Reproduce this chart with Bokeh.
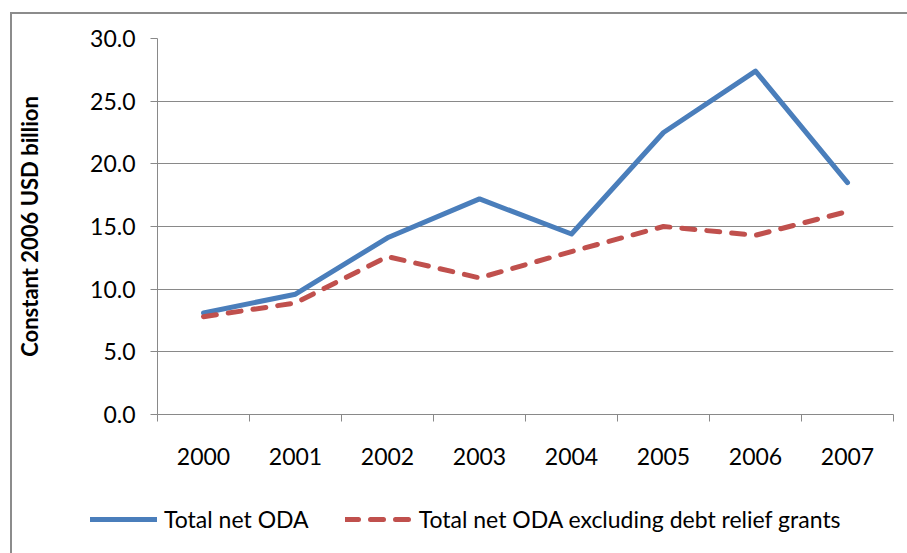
from bokeh.plotting import figure
from bokeh.layouts import column
from bokeh.models import (FixedTicker, PrintfTickFormatter, Legend, LegendItem,
                          Range1d, ColumnDataSource)
from bokeh.embed import file_html
from bokeh.resources import INLINE

years = ["2000", "2001", "2002", "2003", "2004", "2005", "2006", "2007"]
total_oda = [8.1, 9.6, 14.1, 17.2, 14.4, 22.5, 27.4, 18.5]
oda_excl_debt = [7.8, 8.9, 12.6, 10.9, 13.0, 15.0, 14.3, 16.2]
y_ticks = [0, 5, 10, 15, 20, 25, 30]

FONT = "Lato"
GRID = "#898989"
BLUE = "#4A7EBB"
RED = "#C0504D"

xpos = [i + 0.5 for i in range(len(years))]
src = ColumnDataSource(dict(x=xpos, total=total_oda, excl=oda_excl_debt))

p = figure(width=895, height=465, output_backend="svg", toolbar_location=None,
           x_range=Range1d(0, len(years)), y_range=Range1d(0, 30),
           min_border_left=145, min_border_right=14, min_border_top=24,
           min_border_bottom=65)
p.outline_line_color = None
p.background_fill_color = "white"
p.border_fill_color = "white"

# x axis: category labels at centers, tick marks at boundaries
p.xaxis.ticker = FixedTicker(ticks=xpos, minor_ticks=list(range(len(years) + 1)))
p.xaxis.major_label_overrides = {x: y for x, y in zip(xpos, years)}
p.xaxis.major_tick_out = 0
p.xaxis.major_tick_in = 0
p.xaxis.minor_tick_out = 7
p.xaxis.minor_tick_in = 0
p.xaxis.minor_tick_line_color = GRID
p.xaxis.axis_line_color = GRID
p.xaxis.major_label_standoff = 26
p.xaxis.major_label_text_font = FONT
p.xaxis.major_label_text_font_size = "23px"
p.xaxis.major_label_text_color = "black"
p.xgrid.grid_line_color = None

# y axis
p.yaxis.ticker = FixedTicker(ticks=y_ticks)
p.yaxis.formatter = PrintfTickFormatter(format="%.1f")
p.yaxis.major_tick_out = 7
p.yaxis.major_tick_in = 0
p.yaxis.minor_tick_line_color = None
p.yaxis.major_tick_line_color = GRID
p.yaxis.axis_line_color = GRID
p.yaxis.major_label_standoff = 15
p.yaxis.major_label_text_font = FONT
p.yaxis.major_label_text_font_size = "23px"
p.yaxis.major_label_text_color = "black"
p.yaxis.axis_label = "Constant 2006 USD billion"
p.yaxis.axis_label_text_font = FONT
p.yaxis.axis_label_text_font_style = "bold"
p.yaxis.axis_label_text_font_size = "22px"
p.yaxis.axis_label_text_color = "black"
p.yaxis.axis_label_standoff = 44
p.ygrid.ticker = FixedTicker(ticks=y_ticks)
p.ygrid.grid_line_color = GRID
p.ygrid.grid_line_width = 1

line_kw_blue = dict(line_color=BLUE, line_width=5, line_join="round", line_cap="round")
line_kw_red = dict(line_color=RED, line_width=5, line_dash="13 12",
                   line_join="round", line_cap="round")
p.line("x", "total", source=src, **line_kw_blue)
p.line("x", "excl", source=src, **line_kw_red)

# legend strip below the chart (same series; plotted out of view, only keys show)
leg = figure(width=895, height=74, output_backend="svg", toolbar_location=None,
             x_range=Range1d(-100, -99), y_range=Range1d(0, 1),
             x_axis_location=None, y_axis_location=None,
             min_border=0, min_border_left=0, min_border_right=0,
             min_border_top=0, min_border_bottom=0)
for fig in (p, leg):
    try:
        fig.frame_align = False
    except Exception:
        pass
leg.grid.visible = False
leg.outline_line_color = None
leg.border_fill_color = "white"
l1 = leg.line("x", "total", source=src, **line_kw_blue)
l2 = leg.line("x", "excl", source=src, **line_kw_red)
legend = Legend(items=[LegendItem(label="Total net ODA", renderers=[l1]),
                       LegendItem(label="Total net ODA excluding debt relief grants",
                                  renderers=[l2])],
                orientation="horizontal", location=(78, 20),
                glyph_width=67, glyph_height=28, label_height=28,
                label_standoff=7, spacing=36, padding=0, margin=0,
                border_line_color=None, background_fill_alpha=0,
                label_text_font=FONT, label_text_font_size="23px",
                label_text_color="black")
leg.add_layout(legend, "center")

layout = column(p, leg, spacing=0)
layout.styles = {"margin-left": "10px", "margin-top": "12px",
                 "border-left": "2px solid #8c8c8c", "border-top": "2px solid #8c8c8c"}

open("out.html", "w").write(file_html(layout, INLINE))
